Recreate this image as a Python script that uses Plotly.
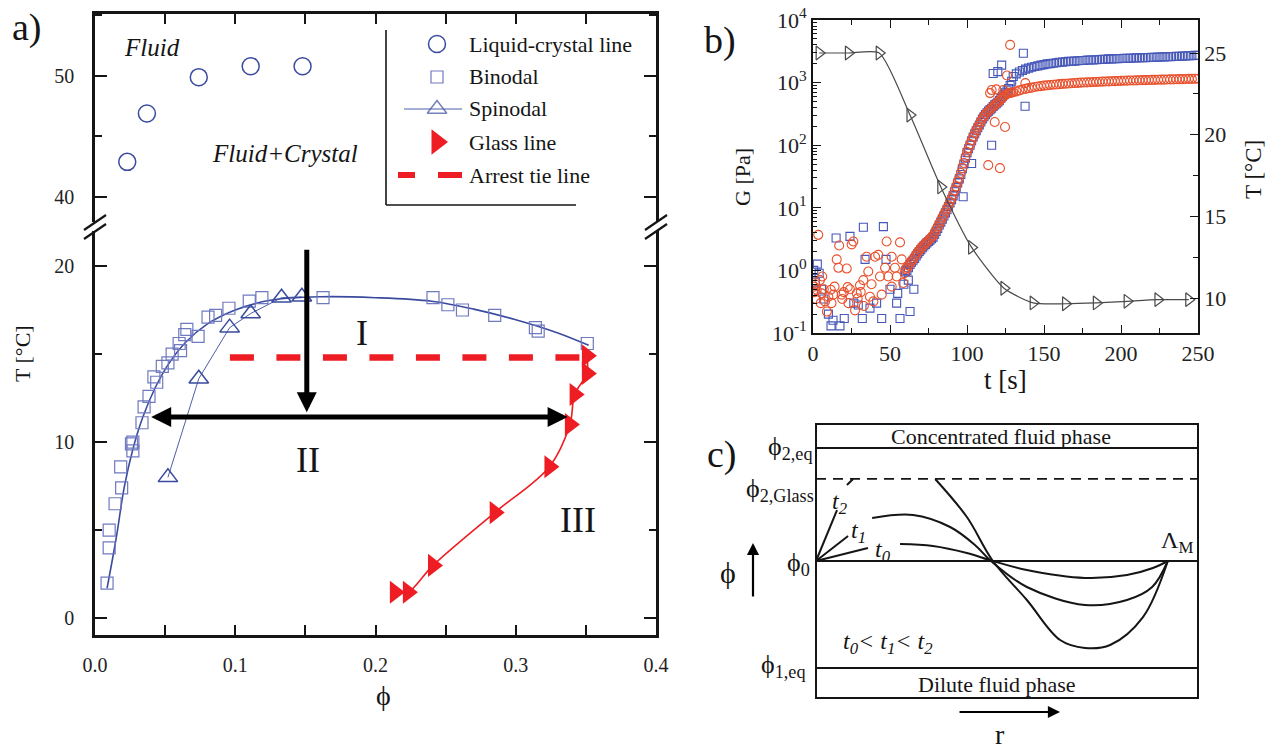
import plotly.graph_objects as go

W, H = 1278, 752
def px(x): return x / W
def py(y): return 1 - y / H

SERIF = "Liberation Serif"
INK = "#151515"
BLUE = "#3a4b9f"
SQBLUE = "#6f79c0"
RED = "#ee1d23"
BBLUE = "#4657b8"
BRED = "#e8502c"
GRAY = "#4a4a4a"

# ---------------- Panel a data ----------------
lc_phi = [0.023, 0.037, 0.074, 0.111, 0.148]
lc_T = [42.9, 46.9, 49.9, 50.8, 50.8]

binodal_phi = [0.0086, 0.0101, 0.0101, 0.0143, 0.019, 0.0183, 0.027, 0.026, 0.027, 0.0335,
               0.035, 0.0385, 0.044, 0.042, 0.048, 0.052, 0.055, 0.061, 0.060, 0.064,
               0.0655, 0.0735, 0.0806, 0.086, 0.0955, 0.110, 0.119, 0.1626, 0.241, 0.2516,
               0.262, 0.285, 0.314, 0.316, 0.351]
binodal_T = [2.0, 4.0, 5.0, 6.5, 7.4, 8.6, 9.5, 9.9, 10.0, 11.1,
             12.0, 12.6, 13.4, 13.7, 14.3, 14.5, 15.0, 15.2, 15.6, 16.1,
             16.4, 16.0, 17.1, 17.2, 17.6, 18.0, 18.2, 18.2, 18.2, 17.8,
             17.5, 17.2, 16.5, 16.3, 15.6]

binodal_fit_phi = [0.0086, 0.015, 0.021, 0.027, 0.034, 0.043, 0.053, 0.065, 0.08, 0.1,
                   0.125, 0.16, 0.2, 0.24, 0.27, 0.3, 0.33, 0.352]
binodal_fit_T = [1.7, 4.5, 7.5, 9.6, 11.4, 13.1, 14.5, 15.7, 16.7, 17.5,
                 18.05, 18.25, 18.2, 18.0, 17.55, 16.95, 16.2, 15.5]

spin_phi = [0.052, 0.074, 0.096, 0.111, 0.133, 0.1475]
spin_T = [8.0, 13.6, 16.5, 17.3, 18.2, 18.25]

glass_phi = [0.2138, 0.2231, 0.241, 0.285, 0.324, 0.3386, 0.342, 0.3507, 0.3507]
glass_T = [1.48, 1.48, 3.0, 6.0, 8.6, 11.0, 12.7, 13.9, 14.9]

tie_phi = [0.0962, 0.352]
tie_T = [14.8, 14.8]

# ---------------- Panel b data ----------------
temp_t = [4, 23, 43, 63, 83, 103, 124, 143, 164, 184, 204, 224, 244]
temp_T = [25.0, 25.0, 25.0, 21.2, 16.8, 13.1, 10.6, 9.7, 9.65, 9.7, 9.8, 9.9, 9.9]

blue_t_early = [0.5, 1.5, 2.8, 4.0, 5.5, 7.0, 10.0, 11.7, 13.0, 15.0, 17.5, 20.3, 24.0, 26.5,
                29.4, 32.0, 32.7, 33.8, 37.0, 41.3, 44.6, 45.7, 47.4, 50.0, 54.3, 55.0, 56.5,
                59.0, 61.9, 63.0, 65.5]
blue_G_early = [1.0, 0.65, 1.26, 0.9, 0.5, 0.35, 0.2, 0.13, 0.16, 3.3, 0.13, 0.17, 3.5, 0.3,
                0.28, 0.17, 4.9, 1.5, 0.25, 0.3, 0.17, 5.0, 1.5, 0.5, 0.3, 0.43, 0.17,
                0.6, 0.7, 0.22, 0.5]

red_t_early = [0.5, 1.0, 1.5, 2.0, 2.4, 3.4, 4.5, 5.0, 5.6, 6.0, 7.0, 7.8, 9.0, 10.0, 11.5, 12.0,
               13.2, 14.0, 15.4, 16.5, 17.0, 18.6, 19.0, 20.0, 21.9, 22.5, 23.0, 24.0, 25.1,
               26.2, 27.3, 28.4, 29.0, 30.5, 31.0, 32.7, 33.0, 34.8, 35.9, 37.0, 38.0, 39.2,
               40.3, 42.4, 43.5, 44.6, 46.8, 47.8, 48.9, 51.1, 51.1, 53.2, 54.3, 56.5, 57.6,
               58.6, 59.5]
red_G_early = [0.55, 0.45, 0.6, 0.35, 0.49, 3.7, 0.7, 0.3, 0.43, 0.8, 0.5, 0.32, 0.22, 0.38,
               0.49, 0.3, 0.41, 0.55, 1.5, 1.1, 2.5, 0.41, 0.35, 0.45, 1.07, 0.54, 0.3, 0.5,
               2.6, 2.9, 0.23, 0.43, 0.36, 0.58, 0.45, 0.7, 0.27, 1.65, 0.96, 0.38, 0.6, 0.32,
               1.65, 1.77, 0.8, 0.41, 1.1, 2.9, 0.8, 1.65, 0.55, 1.1, 0.8, 2.8, 1.5,
               0.63, 0.9]

rise_t = list(range(60, 130))
blue_G_rise = [0.95, 1.0, 1.1, 1.25, 1.35, 1.45, 1.55, 1.7, 1.85, 2.0,
               2.15, 2.3, 2.45, 2.6, 2.75, 2.9, 3.05, 3.2, 3.4, 3.8,
               4.2, 4.7, 5.3, 5.9, 6.6, 7.4, 8.3, 9.3, 10.5, 12,
               13.5, 15.5, 18, 21, 25, 29, 34, 42, 50, 62,
               76, 88, 100, 118, 135, 152, 170, 190, 210, 235,
               262, 285, 308, 330, 350, 370, 390, 415, 440, 460,
               485, 515, 560, 600, 640, 690, 740, 800, 900, 1050]
red_G_rise = [1.05, 1.1, 1.2, 1.3, 1.4, 1.5, 1.65, 1.8, 1.95, 2.1,
              2.25, 2.4, 2.55, 2.7, 2.85, 3.0, 3.2, 3.4, 3.6, 4.0,
              4.5, 5.0, 5.6, 6.2, 7.0, 7.8, 8.8, 9.8, 11, 12.5,
              14, 16, 19, 22, 26, 30, 36, 43, 52, 64,
              78, 90, 104, 120, 137, 155, 174, 194, 215, 240,
              265, 290, 312, 333, 352, 372, 393, 416, 438, 460,
              482, 510, 540, 575, 610, 640, 660, 675, 685, 690]

plat_t = list(range(130, 251, 2))
blue_G_plat = [1250, 1380, 1480, 1560, 1640, 1700, 1760, 1810, 1850, 1900,
               1940, 1990, 2010, 2040, 2080, 2110, 2120, 2150, 2180, 2190,
               2200, 2230, 2250, 2260, 2290, 2300, 2300, 2320, 2340, 2350,
               2360, 2390, 2390, 2400, 2410, 2420, 2440, 2450, 2450, 2470,
               2480, 2500, 2500, 2510, 2520, 2540, 2540, 2550, 2560, 2580,
               2590, 2590, 2610, 2620, 2640, 2650, 2660, 2680, 2700, 2720,
               2740]
red_G_plat = [700, 725, 750, 775, 795, 815, 830, 850, 865, 880,
              895, 905, 915, 925, 935, 945, 955, 960, 970, 975,
              985, 990, 1000, 1005, 1010, 1015, 1020, 1025, 1030, 1035,
              1040, 1045, 1050, 1055, 1060, 1065, 1070, 1075, 1080, 1080,
              1085, 1090, 1095, 1095, 1100, 1105, 1105, 1110, 1115, 1115,
              1120, 1125, 1125, 1130, 1135, 1135, 1140, 1145, 1145, 1150,
              1155]

blue_t_out = [97.5, 103.0, 116.0, 117.0, 120.0, 122.5, 136.6, 137.7]
blue_G_out = [15, 51, 100, 1400, 1500, 1900, 2950, 420]
red_t_out = [113.8, 115.0, 118.0, 121.4, 124.7, 116.0, 119.0, 123.6, 126.0, 128.0, 137.9]
red_G_out = [48, 680, 235, 43, 195, 760, 780, 760, 1300, 4000, 980]

# ---------------- Panel c schematic (r, phi) ----------------
c_phi2eq, c_glass, c_phi0, c_phi1eq, c_box = 1.0, 0.726, 0.0, -0.947, 1.212
t0a_r, t0a_p = [0.0, 0.136], [0.0, 0.115]
t0b_r = [0.22, 0.306, 0.395, 0.463, 0.552, 0.704, 0.814, 0.882, 0.921]
t0b_p = [0.150, 0.133, 0.071, 0.0, -0.080, -0.150, -0.124, -0.062, 0.0]
t1a_r, t1a_p = [0.0, 0.084], [0.0, 0.221]
t1b_r = [0.147, 0.254, 0.351, 0.416, 0.458, 0.552, 0.704, 0.814, 0.880, 0.921]
t1b_p = [0.381, 0.407, 0.301, 0.142, 0.0, -0.230, -0.389, -0.345, -0.230, 0.0]
t2a_r, t2a_p = [0.0, 0.055], [0.0, 0.451]
t2c_r, t2c_p = [0.081, 0.097], [0.673, 0.726]
t2b_r = [0.312, 0.395, 0.463, 0.552, 0.639, 0.704, 0.770, 0.856, 0.921]
t2b_p = [0.726, 0.389, 0.0, -0.345, -0.699, -0.770, -0.743, -0.496, 0.0]

# tick labels of panel b
g_tickvals = [0.1, 1, 10, 100, 1000, 10000]
g_ticktext = ["10<sup>-1</sup>", "10<sup>0</sup>", "10<sup>1</sup>", "10<sup>2</sup>", "10<sup>3</sup>", "10<sup>4</sup>"]

fig = go.Figure()

def sc(**kw):
    kw.setdefault("showlegend", False)
    kw.setdefault("hoverinfo", "skip")
    fig.add_trace(go.Scatter(**kw))

# ---- panel a traces ----
sc(x=binodal_fit_phi, y=binodal_fit_T, mode="lines", line=dict(color=BLUE, width=1.6, shape="spline"), xaxis="x", yaxis="y")
sc(x=binodal_phi, y=binodal_T, mode="markers",
   marker=dict(symbol="square-open", size=12, color=SQBLUE, line=dict(width=1.2, color=SQBLUE)), xaxis="x", yaxis="y")
sc(x=spin_phi, y=spin_T, mode="lines+markers", line=dict(color=BLUE, width=0.9),
   marker=dict(symbol="triangle-up-open", size=17, color=BLUE, line=dict(width=1.5, color=BLUE)), xaxis="x", yaxis="y")
sc(x=tie_phi, y=tie_T, mode="lines", line=dict(color=RED, width=6.5, dash="24px,22.5px"), xaxis="x", yaxis="y")
sc(x=glass_phi, y=glass_T, mode="lines+markers", line=dict(color=RED, width=1.6, shape="spline"),
   marker=dict(symbol="triangle-right", size=20, color=RED, line=dict(width=0)), xaxis="x", yaxis="y")
sc(x=lc_phi, y=lc_T, mode="markers",
   marker=dict(symbol="circle-open", size=17, color=BLUE, line=dict(width=1.5, color=BLUE)), xaxis="x2", yaxis="y2")

# ---- panel b traces ----
bsq = dict(symbol="square-open", size=8, color=BBLUE, line=dict(width=1.1, color=BBLUE))
bci = dict(symbol="circle-open", size=9, color=BRED, line=dict(width=1.1, color=BRED))
sc(x=blue_t_early + rise_t + plat_t + blue_t_out, y=blue_G_early + blue_G_rise + blue_G_plat + blue_G_out,
   mode="markers", marker=bsq, xaxis="x3", yaxis="y3")
sc(x=red_t_early + rise_t + plat_t + red_t_out, y=red_G_early + red_G_rise + red_G_plat + red_G_out,
   mode="markers", marker=bci, xaxis="x3", yaxis="y3")
sc(x=temp_t, y=temp_T, mode="lines+markers", line=dict(color=GRAY, width=1.2, shape="spline", smoothing=0.6),
   marker=dict(symbol="triangle-right-open", size=12, color=GRAY, line=dict(width=1.2, color=GRAY)),
   xaxis="x3", yaxis="y4")

# ---- panel c traces ----
cl = dict(color=INK, width=2)
for rr, pp in [(t0a_r, t0a_p), (t1a_r, t1a_p), (t2a_r, t2a_p), (t2c_r, t2c_p)]:
    sc(x=rr, y=pp, mode="lines", line=cl, xaxis="x5", yaxis="y5")
for rr, pp in [(t0b_r, t0b_p), (t1b_r, t1b_p), (t2b_r, t2b_p)]:
    sc(x=rr, y=pp, mode="lines", line=dict(color=INK, width=2, shape="spline", smoothing=1.0), xaxis="x5", yaxis="y5")

# ---- legend of panel a (drawn on a pixel overlay axis) ----
sc(x=[437], y=[44], mode="markers", marker=dict(symbol="circle-open", size=17, color=BLUE, line=dict(width=1.5, color=BLUE)), xaxis="x6", yaxis="y6")
sc(x=[437], y=[77], mode="markers", marker=dict(symbol="square-open", size=12, color=SQBLUE, line=dict(width=1.2, color=SQBLUE)), xaxis="x6", yaxis="y6")
sc(x=[404, 437, 462], y=[109, 109, 109], mode="lines+markers", line=dict(color=BLUE, width=0.9),
   marker=dict(symbol="triangle-up-open", size=[0, 17, 0], color=BLUE, line=dict(width=1.5, color=BLUE)), xaxis="x6", yaxis="y6")
sc(x=[437], y=[142], mode="markers", marker=dict(symbol="triangle-right", size=22, color=RED, line=dict(width=0)), xaxis="x6", yaxis="y6")

# ---------------- axes ----------------
tf = dict(family=SERIF, size=20, color="#222")
tfb = dict(family=SERIF, size=22, color="#222")
common = dict(showgrid=False, zeroline=False, showline=True, linecolor=INK, ticks="inside",
              tickcolor=INK, automargin=False)
minor_g = [m * 10 ** e for e in (-1, 0, 1, 2, 3) for m in range(2, 10)]

layout = dict(
    template="none",
    width=W, height=H, autosize=False, margin=dict(l=0, r=0, t=0, b=0, pad=0),
    paper_bgcolor="white", plot_bgcolor="rgba(0,0,0,0)",
    font=dict(family=SERIF, color=INK),
    showlegend=False,
    xaxis=dict(**common, domain=[px(95), px(656)], range=[0, 0.4], anchor="y", linewidth=2.5,
               dtick=0.1, tick0=0, tickformat=".1f", ticklen=10, tickwidth=2, tickfont=tf,
               minor=dict(ticks="inside", dtick=0.05, ticklen=10, tickwidth=2, tickcolor=INK),
               ticklabelstandoff=10),
    xaxis2=dict(**common, domain=[px(95), px(656)], range=[0, 0.4], anchor="y2", side="top", linewidth=2.5,
                dtick=0.1, tick0=0, ticklen=10, tickwidth=2, showticklabels=False,
                minor=dict(ticks="inside", dtick=0.05, ticklen=10, tickwidth=2, tickcolor=INK)),
    yaxis=dict(**common, domain=[py(635), py(226)], range=[-0.95, 22.27], anchor="x", linewidth=2.5,
               mirror="ticks", dtick=10, tick0=0, ticklen=12, tickwidth=2, tickfont=tf,
               minor=dict(ticks="inside", dtick=5, ticklen=7, tickwidth=2, tickcolor=INK),
               ticklabelstandoff=14),
    yaxis2=dict(**common, domain=[py(226), py(14)], range=[37.6, 55.12], anchor="x2", linewidth=2.5,
                mirror="ticks", dtick=10, tick0=0, ticklen=12, tickwidth=2, tickfont=tf,
                minor=dict(ticks="inside", dtick=5, ticklen=7, tickwidth=2, tickcolor=INK),
                ticklabelstandoff=14),
    xaxis3=dict(**common, domain=[px(813), px(1198)], range=[0, 250], anchor="y3", linewidth=1.6,
                mirror="ticks", dtick=50, ticklen=8, tickwidth=1.4, tickfont=tfb,
                minor=dict(ticks="inside", dtick=25, ticklen=5, tickwidth=1.2, tickcolor=INK)),
    yaxis3=dict(**common, domain=[py(333), py(20)], type="log", range=[-1, 4], anchor="x3", linewidth=1.6,
                tickmode="array", tickvals=g_tickvals, ticktext=g_ticktext, ticklen=8, tickwidth=1.4,
                tickfont=tfb,
                minor=dict(ticks="inside", tickmode="array", tickvals=minor_g, ticklen=4, tickwidth=1, tickcolor=INK)),
    yaxis4=dict(**common, overlaying="y3", side="right", anchor="x3", range=[7.86, 27.02], linewidth=1.6,
                dtick=5, tick0=0, ticklen=8, tickwidth=1.4, tickfont=tfb,
                minor=dict(ticks="inside", dtick=2.5, ticklen=5, tickwidth=1.2, tickcolor=INK)),
    xaxis5=dict(domain=[px(796.9), px(1217.1)], range=[-0.05, 1.05], anchor="y5", visible=False, automargin=False),
    yaxis5=dict(domain=[py(707.9), py(414.1)], range=[-1.3, 1.3], anchor="x5", visible=False, automargin=False),
    xaxis6=dict(domain=[0, 1], range=[0, W], anchor="y6", visible=False, automargin=False),
    yaxis6=dict(domain=[0, 1], range=[H, 0], anchor="x6", visible=False, automargin=False),
)
fig.update_layout(**layout)

shapes = []
def pline(x0, y0, x1, y1, w=2, color=INK, dash=None):
    d = dict(type="line", xref="paper", yref="paper", x0=px(x0), y0=py(y0), x1=px(x1), y1=py(y1),
             line=dict(color=color, width=w))
    if dash:
        d["line"]["dash"] = dash
    shapes.append(d)

# legend box (a)
pline(386, 30, 386, 205, w=1.6)
pline(386, 205, 576, 205, w=1.6)
pline(398, 175, 415, 175, w=6, color=RED)
pline(438, 175, 462, 175, w=6, color=RED)
# axis break marks (a)
for xb in (95, 656):
    shapes.append(dict(type="rect", xref="paper", yref="paper", x0=px(xb - 4), x1=px(xb + 4),
                       y0=py(231), y1=py(222), fillcolor="white", line=dict(width=0)))
    pline(xb - 11, 230, xb + 11, 215, w=2.2)
    pline(xb - 11, 239, xb + 11, 224, w=2.2)

# panel c frame and levels
def cl_shape(y, dash=None, w=2):
    d = dict(type="line", xref="x5", yref="y5", x0=0, x1=1, y0=y, y1=y, line=dict(color=INK, width=w))
    if dash:
        d["line"]["dash"] = dash
    shapes.append(d)
shapes.append(dict(type="rect", xref="x5", yref="y5", x0=0, x1=1, y0=-c_box, y1=c_box, line=dict(color=INK, width=2)))
cl_shape(c_phi2eq)
cl_shape(c_phi1eq)
cl_shape(c_phi0)
cl_shape(c_glass, dash="10px,7px", w=1.8)
fig.update_layout(shapes=shapes)

anns = []
def ann(x, y, text, size=20, angle=0, xanchor="center", italic=False, **kw):
    if italic:
        text = "<i>" + text + "</i>"
    anns.append(dict(xref="paper", yref="paper", x=px(x), y=py(y), text=text, showarrow=False,
                     font=dict(family=SERIF, size=size, color=kw.pop("color", INK)),
                     textangle=angle, xanchor=xanchor, yanchor="middle", **kw))

# panel a texts
ann(27, 27, "a)", 38)
ann(152, 48, "Fluid", 25, italic=True)
ann(285, 153, "Fluid+Crystal", 25, italic=True)
ann(362, 333, "I", 36)
ann(308, 460, "II", 36)
ann(578, 520, "III", 36)
ann(22, 354, "T [°C]", 22, angle=-90)
ann(383, 695, "ϕ", 28)
for yy, tx in zip([44, 77, 109, 142, 175], ["Liquid-crystal line", "Binodal", "Spinodal", "Glass line", "Arrest tie line"]):
    ann(467, yy, tx, 22, xanchor="left")

# arrows in a
anns.append(dict(xref="x", yref="y", axref="x", ayref="y", x=0.151, y=11.7, ax=0.151, ay=21.0, text="",
                 showarrow=True, arrowhead=2, arrowsize=0.8, arrowwidth=5, arrowcolor="black", standoff=0))
anns.append(dict(xref="x", yref="y", axref="x", ayref="y", x=0.337, y=11.42, ax=0.039, ay=11.42, text="",
                 showarrow=True, arrowhead=2, arrowsize=0.8, arrowwidth=5, arrowcolor="black",
                 arrowside="end+start", startarrowhead=2, startarrowsize=0.8, standoff=0, startstandoff=0))

# panel b texts
ann(720, 40, "b)", 38)
ann(742, 177, "G [Pa]", 22, angle=-90)
ann(1253, 170, "T [°C]", 23, angle=-90)
ann(1005, 380, "t [s]", 27)

# panel c texts
ann(722, 455, "c)", 38)
ann(1001, 436, "Concentrated fluid phase", 22)
ann(997, 684, "Dilute fluid phase", 22)
ann(790, 448, "ϕ<sub>2,eq</sub>", 26)
ann(780, 490, "ϕ<sub>2,Glass</sub>", 26)
ann(798, 564, "ϕ<sub>0</sub>", 26)
ann(783, 666, "ϕ<sub>1,eq</sub>", 26)
ann(728, 572, "ϕ", 30)
ann(840, 503, "t<sub>2</sub>", 24, italic=True)
ann(858, 532, "t<sub>1</sub>", 24, italic=True)
ann(883, 551, "t<sub>0</sub>", 24, italic=True)
ann(888, 643, "t<sub>0</sub>&lt; t<sub>1</sub>&lt; t<sub>2</sub>", 24, italic=True)
ann(1177, 542, "Λ<sub>M</sub>", 24)
ann(1000, 734, "r", 28)
# arrows in c (pixel overlay axis)
anns.append(dict(xref="x6", yref="y6", axref="x6", ayref="y6", x=753, y=543, ax=753, ay=598,
                 text="", showarrow=True, arrowhead=2, arrowsize=1.1, arrowwidth=2.2, arrowcolor="black", standoff=0))
anns.append(dict(xref="x6", yref="y6", axref="x6", ayref="y6", x=1060, y=712, ax=958, ay=712,
                 text="", showarrow=True, arrowhead=2, arrowsize=1.1, arrowwidth=2.2, arrowcolor="black", standoff=0))

fig.update_layout(annotations=anns)
fig.write_html("out.html", config={"displayModeBar": False},
               post_script="document.body.style.margin='0px';document.body.style.overflow='hidden';")
